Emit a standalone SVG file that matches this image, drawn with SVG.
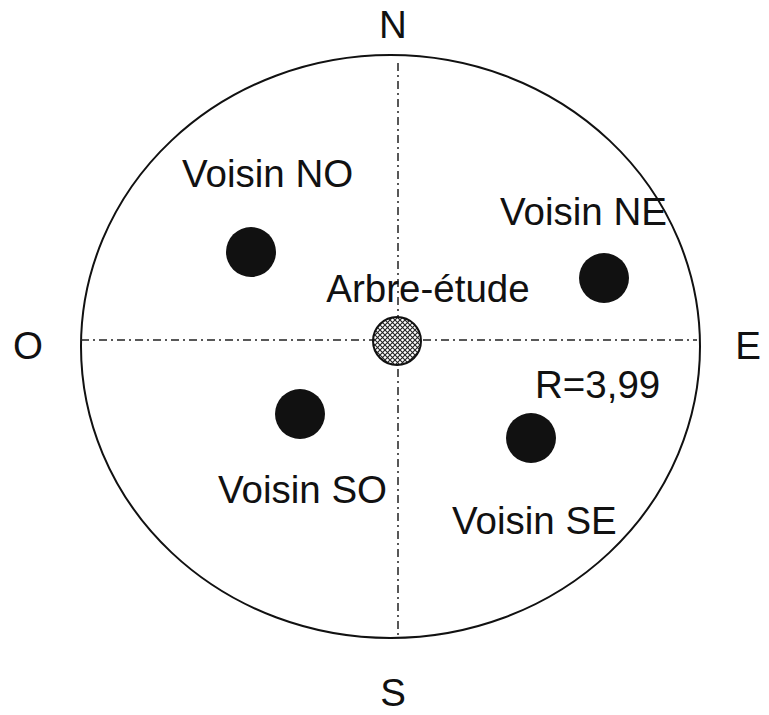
<svg xmlns="http://www.w3.org/2000/svg" width="769" height="715" viewBox="0 0 769 715">
<style>
text{font-family:"Liberation Sans",Arial,sans-serif;font-size:38.5px;fill:#111}
.axis{stroke:#222;stroke-width:1.5;stroke-dasharray:8 4 2 4;fill:none}
.dot{fill:#111}
</style>
<defs>
<pattern id="hatch" width="5" height="5" patternUnits="userSpaceOnUse">
<rect width="5" height="5" fill="#fff"/>
<path d="M0,0 L5,5 M5,0 L0,5" stroke="#222" stroke-width="1.1"/>
</pattern>
</defs>
<rect width="769" height="715" fill="#fff"/>
<ellipse cx="390.5" cy="346.5" rx="309.5" ry="291.5" fill="none" stroke="#111" stroke-width="2"/>
<g id="connectors">
<line class="axis" x1="398" y1="63" x2="398" y2="636"/>
<line class="axis" x1="81" y1="340" x2="697" y2="340"/>
</g>
<g id="labels">
<text x="393" y="38" text-anchor="middle">N</text>
<text x="393" y="706" text-anchor="middle">S</text>
<text x="28" y="359" text-anchor="middle">O</text>
<text x="748" y="359" text-anchor="middle">E</text>
<text x="535" y="398">R=3,99</text>
</g>
<g id="arbre-etude">
<circle cx="397" cy="341" r="24" fill="url(#hatch)" stroke="#111" stroke-width="2"/>
<text x="428" y="302" text-anchor="middle">Arbre-étude</text>
</g>
<g id="voisin-no">
<circle class="dot" cx="251" cy="252" r="25"/>
<text x="182" y="187">Voisin NO</text>
</g>
<g id="voisin-ne">
<circle class="dot" cx="604" cy="278" r="25"/>
<text x="500" y="225">Voisin NE</text>
</g>
<g id="voisin-so">
<circle class="dot" cx="300" cy="414" r="25"/>
<text x="218" y="503">Voisin SO</text>
</g>
<g id="voisin-se">
<circle class="dot" cx="531" cy="438" r="25"/>
<text x="452" y="534">Voisin SE</text>
</g>
</svg>
